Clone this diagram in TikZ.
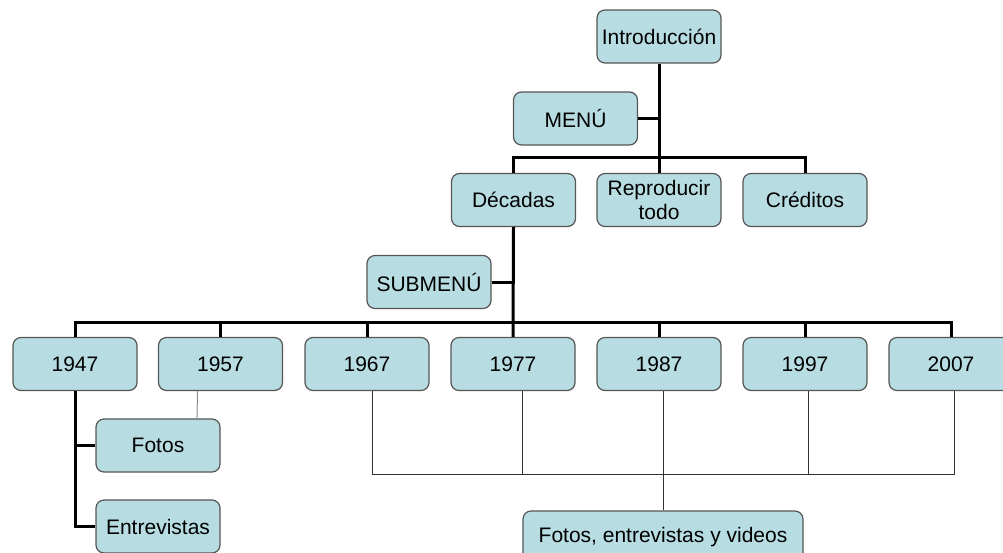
\documentclass[tikz,border=0pt]{standalone}
\usepackage{fontspec}
\setmainfont{Liberation Sans}
\usepackage{xcolor}
\usetikzlibrary{positioning}
\definecolor{cajafondo}{RGB}{183,221,226}
\definecolor{cajaborde}{RGB}{85,85,85}

\begin{document}
\begin{tikzpicture}[x=1pt, y=-1pt, thick,
    caja/.style={draw=cajaborde, line width=1.2pt, fill=cajafondo, rounded corners=8pt,
        minimum width=124pt, minimum height=53pt, inner sep=1pt, align=center,
        font=\fontsize{21}{24}\selectfont},
    tronco/.style={line width=3pt},
    rama/.style={line width=1pt, draw=black!80},
    tenue/.style={line width=1pt, draw=black!45}]
    \useasboundingbox (0,0) rectangle (1003,552);

    % niveles superiores
    \node[caja] (intro) at (659,36.5) {Introducción};
    \node[caja] (menu) at (575.5,118.5) {MENÚ};
    \node[caja] (decadas) at (513.5,200) {Décadas};
    \node[caja] (repro) at (659,200) {Reproducir\\todo};
    \node[caja] (creditos) at (805,200) {Créditos};
    \node[caja] (submenu) at (429,282) {SUBMENÚ};

    % decadas
    \foreach \anio/\x in {1947/75, 1957/220.5, 1967/367, 1977/513, 1987/659, 1997/805, 2007/951}
        \node[caja] (a\anio) at (\x,364) {\anio};

    \node[caja] (fotos) at (158,445.5) {Fotos};
    \node[caja] (entrev) at (158,526.5) {Entrevistas};
    \node[caja, minimum width=280pt] (fev) at (663,537.5) {Fotos, entrevistas y videos};

    \coordinate (bus1) at (659,157);
    \coordinate (bus2) at (513,322);
    \coordinate (bus3) at (372,474);

    % conectores gruesos
    \draw[tronco] (intro.south) -- (repro.north);
    \draw[tronco] (menu.east) -- (menu.east -| intro.south);
    \draw[tronco] (decadas.north) |- (bus1) -| (creditos.north);
    \draw[tronco] (decadas.south) -- (a1977.north);
    \draw[tronco] (submenu.east) -- (submenu.east -| decadas.south);
    \draw[tronco] (a1947.north) |- (bus2) -| (a2007.north);
    \foreach \anio in {1957, 1967, 1987, 1997}
        \draw[tronco] (a\anio.north) -- (a\anio.north |- bus2);
    \draw[tronco] (a1947.south) |- (entrev.west);
    \draw[tronco] (a1947.south |- fotos.west) -- (fotos.west);

    % conectores finos
    \draw[tenue] ([xshift=-23pt]a1957.south) -- ([xshift=39pt]fotos.north);
    \draw[rama] ([xshift=5pt]a1967.south) |- (bus3) -| ([xshift=3pt]a2007.south);
    \draw[rama] ([xshift=9pt]a1977.south) -- ([xshift=9pt]a1977.south |- bus3);
    \draw[rama] ([xshift=3pt]a1997.south) -- ([xshift=3pt]a1997.south |- bus3);
    \draw[rama] ([xshift=4pt]a1987.south) -- (fev.north);
\end{tikzpicture}
\end{document}
